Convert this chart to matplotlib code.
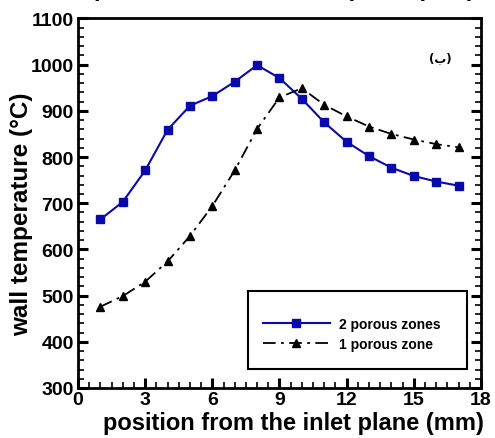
import matplotlib
matplotlib.use("Agg")
import matplotlib.pyplot as plt
from matplotlib.ticker import MultipleLocator
from matplotlib.patches import Rectangle

plt.rcParams['font.family'] = ['Liberation Sans', 'DejaVu Sans']
plt.rcParams['font.weight'] = 'bold'

positions = [1, 2, 3, 4, 5, 6, 7, 8, 9, 10, 11, 12, 13, 14, 15, 16, 17]
two_zones = [665, 703, 771, 859, 911, 932, 963, 999, 971, 926, 875, 833, 802, 777, 759, 747, 738]
one_zone = [476, 499, 530, 574, 629, 694, 771, 861, 929, 949, 913, 888, 866, 850, 838, 828, 821]
labels = ["2 porous zones", "1 porous zone"]

fig = plt.figure(figsize=(4.95, 4.39), dpi=100)
ax = fig.add_axes([0.1576, 0.1139, 0.814, 0.8417])

ax.plot(positions, two_zones, color='#0A0AAA', lw=1.5, marker='s', ms=6, label=labels[0])
ax.plot(positions, one_zone, color='black', lw=1.3, ls=(0, (7, 3, 1.5, 3)), marker='^', ms=6, label=labels[1])

ax.set_xlim(0, 18)
ax.set_ylim(300, 1100)
ax.xaxis.set_major_locator(MultipleLocator(3))
ax.xaxis.set_minor_locator(MultipleLocator(0.5))
ax.yaxis.set_major_locator(MultipleLocator(100))
ax.yaxis.set_minor_locator(MultipleLocator(20))
ax.tick_params(which='both', direction='in', top=False, right=True, labelsize=14)
ax.tick_params(which='major', length=7, width=2.2, pad=2)
ax.tick_params(axis='y', which='major', pad=3)
ax.tick_params(which='minor', length=4, width=1.2)
for s in ax.spines.values():
    s.set_linewidth(2)
for lab in ax.get_xticklabels() + ax.get_yticklabels():
    lab.set_fontweight('bold')

ax.set_xlabel("position from the inlet plane (mm)", fontsize=17, fontweight='bold')
ax.xaxis.set_label_coords(0.535, -0.062)
ax.set_ylabel("wall temperature (°C)", fontsize=17.5, fontweight='bold')
ax.yaxis.set_label_coords((33 - 78) / 403, 0.473)

# cropped label from panel above
fig.text(0.575, 1.0 - 1 / 439, "position from the inlet plane (mm)", fontsize=17, fontweight='bold',
         ha='center', va='bottom')

ax.text(16.2, 1016, "(ب)", fontsize=8.5, fontweight='bold', ha='center', va='center',
        family=['DejaVu Sans'])

ax.add_patch(Rectangle((0.422, 0.0514), 0.543, 0.211, transform=ax.transAxes,
                       fill=False, ec='black', lw=1.5, zorder=5))
leg = ax.legend(loc='center', bbox_to_anchor=(0.68, 0.147), frameon=False,
                prop={'size': 10, 'weight': 'bold'}, handlelength=4.8, handletextpad=0.7,
                labelspacing=0.45, markerscale=0.9)

fig.savefig("out.png", dpi=100)
